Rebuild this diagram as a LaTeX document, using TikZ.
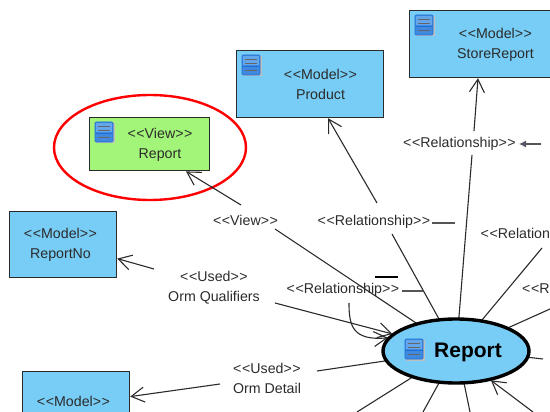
\documentclass[tikz,border=0pt]{standalone}
\usepackage{fontspec}
\setmainfont{Liberation Sans}
\usetikzlibrary{arrows.meta,shapes.geometric}
\definecolor{mblue}{HTML}{77CDF5}
\definecolor{vgreen}{HTML}{A3F57A}
\definecolor{ink}{HTML}{2B2B2B}
\definecolor{iconedge}{HTML}{1F6FD6}
\definecolor{icontop}{HTML}{63A6EC}
\definecolor{iconlow}{HTML}{3F8AE0}
\newcommand{\ltlt}{<\kern0.6pt<}
\newcommand{\gtgt}{>\kern0.6pt>}
\tikzset{
  base/.style={x=1pt,y=-1pt},
  boxnode/.style={draw=ink,line width=1.2pt,inner sep=0pt,anchor=north west},
  modelbox/.style={boxnode,fill=mblue},
  viewbox/.style={boxnode,fill=vgreen},
  lab/.style={font=\fontsize{14.2}{20}\selectfont,text=ink,align=center,inner sep=0pt},
  conn/.style={draw=ink,line width=1.1pt},
  arr/.style={conn,-{Straight Barb[length=13pt,width=15pt,line width=1.1pt]}},
  dbicon/.pic={
    \fill[black!25] (1,1) rectangle (19.5,21.5);
    \fill[rounded corners=1pt,fill=iconlow,draw=iconedge,line width=0.7pt] (0,0) rectangle (18,20);
    \fill[icontop] (1,1) rectangle (17,10);
    \draw[black!60,line width=0.9pt] (3,4)--(15,4) (3,8)--(15,8) (3,15)--(15,15);
    \draw[iconedge,line width=0.7pt] (0,11.5)--(18,11.5);
  }
}
\begin{document}
\begin{tikzpicture}[base]
\useasboundingbox (0,0) rectangle (550,412);
\clip (0,0) rectangle (550,412);
% nodes
\node[viewbox,minimum width=120pt,minimum height=53pt] (view) at (89,117.2) {};
\node[modelbox,minimum width=147pt,minimum height=67pt] (product) at (236,50) {};
\node[modelbox,minimum width=160pt,minimum height=67pt] (store) at (409,10) {};
\node[modelbox,minimum width=107pt,minimum height=66pt] (repno) at (9,211) {};
\node[modelbox,minimum width=107pt,minimum height=66pt] (detail) at (22,371) {};
\node[lab] (viewt) at (160,144.5) {\ltlt View\gtgt\\Report};
\node[lab] (prodt) at (320.5,84.5) {\ltlt Model\gtgt\\Product};
\node[lab] (storet) at (495.5,44.5) {\ltlt Model\gtgt\\StoreReport};
\node[lab] (repnot) at (60.5,244.5) {\ltlt Model\gtgt\\ReportNo};
\node[lab,anchor=north] (detailt) at (73.5,396) {\ltlt Model\gtgt};
\node[draw=red,line width=2.4pt,ellipse,minimum width=192pt,minimum height=105pt,inner sep=0pt] (ring) at (150,147.5) {};
% labels
\node[lab] (lview) at (245.5,220) {\ltlt View\gtgt};
\node[lab] (lqual) at (214,287.5) {\ltlt Used\gtgt\\Orm Qualifiers};
\node[lab] (ldet) at (267,378.5) {\ltlt Used\gtgt\\Orm Detail};
\node[lab] (lrel1) at (374,222) {\ltlt Relationship\gtgt};
\node[lab] (lrel2) at (343,290) {\ltlt Relationship\gtgt};
\node[lab] (lrel3) at (459.5,144) {\ltlt Relationship\gtgt};
\node[lab,anchor=west] (lrel4) at (480.5,235) {\ltlt Relationship\gtgt};
\node[lab,anchor=west] (lrel5) at (522,290) {\ltlt Relationship\gtgt};
% ellipse drawn first as a named shape for the connector ends
\path node[ellipse,minimum width=148pt,minimum height=66pt,inner sep=0pt] (rpt) at (456,351) {};
% free ends
\coordinate (vA) at (275,229); \coordinate (vB) at (241,205);
\coordinate (pA) at (392,234); \coordinate (pB) at (377,203);
\coordinate (sA) at (472,155); \coordinate (sB) at (474,131);
\coordinate (qA) at (275,303); \coordinate (qB) at (154,269);
\coordinate (dA) at (317,371); \coordinate (dB) at (220,384);
\coordinate (r4) at (542,248); \coordinate (r5) at (550,309);
\coordinate (e1) at (543,359);
\coordinate (b1) at (357,412); \coordinate (b2) at (423,412);
\coordinate (b3) at (470,412); \coordinate (b4) at (533,412);
\coordinate (c0) at (349,303);
\coordinate (s1) at (432,223); \coordinate (s2) at (455,223);
\coordinate (s3) at (402,291); \coordinate (s4) at (423,291);
\coordinate (s5) at (375,277); \coordinate (s6) at (398,277);
\coordinate (s7) at (541,144); \coordinate (s8) at (519,144);
% connectors
\draw[conn] (rpt.145.7) -- (vA);
\draw[arr] (vB) -- ([xshift=97pt]view.south west);
\draw[conn] (rpt.118.5) -- (pA);
\draw[arr] (pB) -- ([xshift=92pt]product.south west);
\draw[conn] (rpt.85) -- (sA);
\draw[arr] (sB) -- ([xshift=69pt]store.south west);
\draw[arr] (qA) -- (rpt.165.6);
\draw[arr] (qB) -- ([yshift=-14pt]repno.east);
\draw[conn] (rpt.188.6) -- (dA);
\draw[arr] (dB) -- ([yshift=8pt]detail.east);
\draw[conn] (rpt.50.7) -- (r4);
\draw[conn] (rpt.24) -- (r5);
\draw[conn] (rpt.-5.4) -- (e1);
\draw[conn] (rpt.211) -- (b1);
\draw[conn] (rpt.242) -- (b2);
\draw[conn] (rpt.284.4) -- (b3);
\draw[arr] (b4) -- (rpt.320.6);
\draw[arr] (c0) .. controls (349,325) and (352,341) .. (rpt.169);
\draw[conn,draw=ink!80] (s1) -- (s2);
\draw[conn,draw=ink!80] (s3) -- (s4);
\draw[conn,draw=black] (s5) -- (s6);
\draw[conn,draw=ink!80,-{Latex[length=7pt,width=7pt,fill=blue!30!gray]}] (s7) -- (s8);
% main ellipse
\node[draw=black,fill=mblue,line width=3.4pt,ellipse,minimum width=146pt,minimum height=64pt,inner sep=0pt] (rptshape) at (456,351) {};
\node[font=\bfseries\fontsize{21}{24}\selectfont,inner sep=0pt] (rptt) at (468,352) {Report};
% icons
\pic at (95,122) {dbicon};
\pic at (242,55) {dbicon};
\pic at (415,15) {dbicon};
\pic at (405,339) {dbicon};
\end{tikzpicture}
\end{document}
